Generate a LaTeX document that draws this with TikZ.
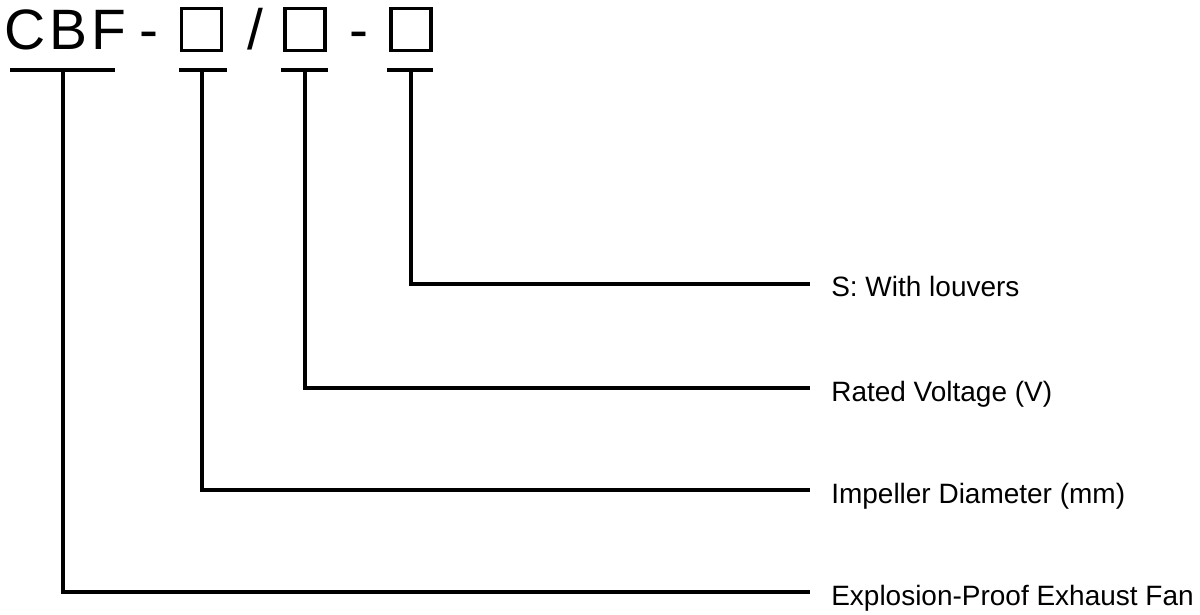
\documentclass[tikz,border=0pt]{standalone}
\usepackage{fontspec}
\setmainfont{Liberation Sans}
\usetikzlibrary{positioning}

\tikzset{
  codebox/.style={draw, line width=2.2pt, minimum width=1.0cm, minimum height=1.05cm, inner sep=0pt},
  bigchar/.style={anchor=base west, inner sep=0pt, font=\fontsize{40.5}{48}\selectfont},
  desc/.style={anchor=base west, inner sep=0pt, font=\fontsize{19.9}{24}\selectfont},
  lead/.style={line width=2.2pt}
}

\begin{document}
\begin{tikzpicture}[x=0.025cm, y=-0.025cm]
            % ==== DEFINITIONS ====
            \def\tipX{810} % end of the leader lines
            \def\txtX{831} % start of the descriptions
            \useasboundingbox (0,0) rectangle (1200,615);

            % ==== MODEL CODE ====
            \node[bigchar] (cbf) at (4,50) {C\kern0.1cm B\kern0.1cm F};
            \node[bigchar] (dashA) at (139.5,50) {-};
            \node[codebox] (boxA) at (201.5,29.5) {};
            \node[bigchar] (slash) at (247,50) {/};
            \node[codebox] (boxB) at (305,29.5) {};
            \node[bigchar] (dashB) at (349.5,50) {-};
            \node[codebox] (boxC) at (411,29.5) {};

            % ==== UNDERLINES ====
            \draw[lead] (10,70) -- (115,70);
            \draw[lead] (179,70) -- (227,70);
            \draw[lead] (281,70) -- (328,70);
            \draw[lead] (387,70) -- (433,70);
            \coordinate (ulF) at (63,70);
            \coordinate (ulD) at (202,70);
            \coordinate (ulV) at (305,70);
            \coordinate (ulS) at (411,70);

            % ==== DESCRIPTIONS ====
            \coordinate (tipS) at (\tipX,284);
            \coordinate (tipV) at (\tipX,388);
            \coordinate (tipD) at (\tipX,490);
            \coordinate (tipF) at (\tipX,592);
            \node[desc] (lblS) at (\txtX,297) {S: With louvers};
            \node[desc] (lblV) at (\txtX,401) {Rated Voltage (V)};
            \node[desc] (lblD) at (\txtX,503) {Impeller Diameter (mm)};
            \node[desc] (lblF) at (\txtX,605) {Explosion-Proof Exhaust Fan};

            % ==== LEADERS ====
            \draw[lead] (ulS) |- (tipS);
            \draw[lead] (ulV) |- (tipV);
            \draw[lead] (ulD) |- (tipD);
            \draw[lead] (ulF) |- (tipF);

\end{tikzpicture}
\end{document}
